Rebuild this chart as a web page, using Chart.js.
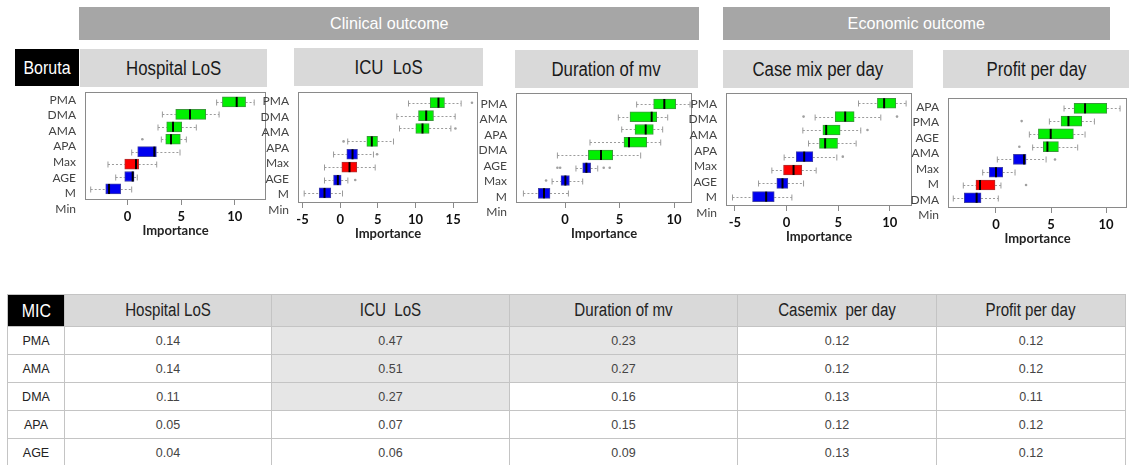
<!DOCTYPE html>
<html>
<head>
<meta charset="utf-8">
<script src="https://cdn.jsdelivr.net/npm/chart.js@4.4.1/dist/chart.umd.min.js"></script>
<style>
  body { margin: 0; width: 1129px; height: 465px; overflow: hidden; background: #fff; position: relative;
         font-family: "Liberation Sans", Arial, sans-serif; }
  .lab { position: absolute; display: flex; align-items: center; justify-content: center; box-sizing: border-box; white-space: nowrap; }
  .lab span, th span { display: inline-block; transform: scaleX(0.84); }
  .top { background: #a6a6a6; color: #fff; font-size: 17px; }
  .top span { transform: scaleX(0.95); }
  .sub { background: #d9d9d9; color: #1a1a1a; font-size: 20px; }
  .blk { background: #000; color: #fff; font-size: 19px; }
  canvas { position: absolute; }
  table { position: absolute; left: 7px; top: 294px; border-collapse: collapse; table-layout: fixed; }
  td, th { border: 1px solid #c4c4c4; text-align: center; padding: 0; white-space: nowrap; }
  th { height: 31px; background: #d9d9d9; font-weight: normal; font-size: 18px; color: #222; }
  th.blk { background: #000; color: #fff; }
  td { height: 27px; font-size: 12.5px; color: #444; }
  td.hi { background: #e6e6e6; }
</style>
</head>
<body>
<div class="lab top" style="left:79px;top:7px;width:620px;height:33px"><span>Clinical outcome</span></div>
<div class="lab top" style="left:723px;top:7px;width:387px;height:33px"><span>Economic outcome</span></div>
<div class="lab blk" style="left:15px;top:49px;width:64px;height:37px"><span>Boruta</span></div>
<div class="lab sub" style="left:80px;top:49px;width:187px;height:38px"><span>Hospital LoS</span></div>
<div class="lab sub" style="left:294px;top:48px;width:189px;height:38px"><span>ICU&nbsp; LoS</span></div>
<div class="lab sub" style="left:515px;top:50px;width:183px;height:38px"><span>Duration of mv</span></div>
<div class="lab sub" style="left:723px;top:50px;width:190px;height:38px"><span>Case mix per day</span></div>
<div class="lab sub" style="left:943px;top:50px;width:186px;height:38px"><span>Profit per day</span></div>

<canvas id="hosp"></canvas>
<canvas id="icu"></canvas>
<canvas id="dur"></canvas>
<canvas id="case"></canvas>
<canvas id="prof"></canvas>

<table id="mic"></table>

<script>
// Boruta importance, one box per row (top to bottom)
const hospLabels = ["PMA", "DMA", "AMA", "APA", "Max", "AGE", "M", "Min"];
const hospStatus = ["Confirmed", "Confirmed", "Confirmed", "Confirmed", "Shadow", "Rejected", "Shadow", "Shadow"];
const hospLo  = [8.3, 3.25, 2.84, 3.15, 0.39, -1.82, -1.1, -3.43];
const hospQ1  = [8.84, 4.49, 3.65, 3.56, 0.95, -0.26, -0.26, -2.03];
const hospMed = [10.17, 5.82, 4.24, 4.05, 2.5, 0.79, 0.48, -1.72];
const hospQ3  = [11.0, 7.29, 5.05, 4.92, 2.69, 1.04, 0.61, -0.63];
const hospHi  = [11.8, 8.53, 6.41, 5.48, 4.89, 2.72, 0.91, 0.39];
const hospOut = [[3, 1.38]];
const hospTicks = [0, 5, 10];

const icuLabels = ["PMA", "DMA", "AMA", "APA", "Max", "AGE", "M", "Min"];
const icuStatus = ["Confirmed", "Confirmed", "Confirmed", "Confirmed", "Shadow", "Rejected", "Shadow", "Shadow"];
const icuLo  = [9.07, 7.52, 7.88, 1.0, -0.88, -2.08, -2.08, -4.78];
const icuQ1  = [11.95, 10.4, 10.04, 3.54, 0.88, 0.22, -0.88, -2.79];
const icuMed = [13.05, 11.42, 10.93, 4.2, 1.64, 1.24, -0.31, -2.08];
const icuQ3  = [13.85, 12.39, 11.81, 4.96, 2.3, 2.21, 0.13, -1.24];
const icuHi  = [16.06, 15.27, 14.7, 7.08, 4.42, 4.65, 1.02, 0.31];
const icuOut = [[0, 17.5], [2, 15.3], [3, 0.45], [4, 4.9], [6, 2.0]];
const icuTicks = [-5, 0, 5, 10, 15];

const durLabels = ["PMA", "AMA", "APA", "DMA", "AGE", "Max", "M", "Min"];
const durStatus = ["Confirmed", "Confirmed", "Confirmed", "Confirmed", "Confirmed", "Shadow", "Shadow", "Shadow"];
const durLo  = [6.57, 4.89, 5.2, 2.29, -0.7, 1.0, -1.19, -3.82];
const durQ1  = [8.13, 5.96, 6.42, 5.41, 2.14, 1.62, -0.37, -2.45];
const durMed = [9.11, 7.95, 7.4, 5.87, 3.3, 1.96, 0.03, -1.93];
const durQ3  = [10.15, 8.41, 8.1, 7.49, 4.37, 2.35, 0.4, -1.38];
const durHi  = [11.47, 9.42, 8.96, 8.78, 6.94, 3.0, 1.62, 0.31];
const durOut = [[5, -0.7], [5, -0.45], [5, 3.55], [5, 4.1], [6, -1.74]];
const durTicks = [0, 5, 10];

const caseLabels = ["PMA", "DMA", "AMA", "APA", "Max", "AGE", "M", "Min"];
const caseStatus = ["Confirmed", "Confirmed", "Confirmed", "Confirmed", "Shadow", "Rejected", "Shadow", "Shadow"];
const caseLo  = [6.97, 2.77, 1.58, 2.13, -0.23, -1.42, -2.71, -5.23];
const caseQ1  = [8.8, 4.71, 3.52, 3.19, 0.94, -0.29, -0.94, -3.29];
const caseMed = [9.45, 5.68, 3.84, 3.74, 1.71, 0.68, -0.39, -1.97];
const caseQ3  = [10.58, 6.55, 5.19, 4.94, 2.55, 1.48, 0.13, -1.19];
const caseHi  = [11.58, 9.13, 7.19, 6.74, 4.87, 2.87, 1.65, 0.52];
const caseOut = [[1, 1.65], [1, 10.7], [2, 7.84], [4, 5.45]];
const caseTicks = [-5, 0, 5, 10];

const profLabels = ["APA", "PMA", "AGE", "AMA", "Max", "M", "DMA", "Min"];
const profStatus = ["Confirmed", "Confirmed", "Confirmed", "Confirmed", "Shadow", "Shadow", "Rejected", "Shadow"];
const profLo  = [6.18, 4.85, 3.03, 3.33, 0.12, -1.21, -2.97, -3.88];
const profQ1  = [7.09, 5.91, 3.85, 4.3, 1.58, -0.61, -1.82, -2.88];
const profMed = [8.09, 6.58, 4.97, 4.67, 2.55, 0, -1.45, -1.76];
const profQ3  = [10.06, 7.79, 7.03, 5.67, 2.73, 0.61, -0.09, -1.36];
const profHi  = [11.27, 8.94, 8.09, 7.42, 4.55, 1.73, 0.45, 0.21];
const profOut = [[1, 2.33], [3, 2.12], [4, 5.36], [6, 2.73]];
const profTicks = [0, 5, 10];

// MIC table
const micRows = ["PMA", "AMA", "DMA", "APA", "AGE"];
const micCols = ["Hospital LoS", "ICU\u00a0 LoS", "Duration of mv", "Casemix\u00a0 per day", "Profit per day"];
const micHosp = [0.14, 0.14, 0.11, 0.05, 0.04];
const micIcu  = [0.47, 0.51, 0.27, 0.07, 0.06];
const micDur  = [0.23, 0.27, 0.16, 0.15, 0.09];
const micCase = [0.12, 0.12, 0.13, 0.12, 0.13];
const micProf = [0.12, 0.12, 0.11, 0.12, 0.12];

const chartFont = 'Lato, "Noto Sans", sans-serif';
const fillFor = { Confirmed: "#00f000", Rejected: "#ff0000", Shadow: "#0000f0" };
const edgeFor = { Confirmed: "#3a9a3a", Rejected: "#b03030", Shadow: "#4040a8" };

function makeChart(id, d, lay) {
  const cv = document.getElementById(id);
  cv.width = lay.r - lay.l + 47;
  cv.height = lay.b - lay.t + 42;
  cv.style.left = (lay.l - 45) + "px";
  cv.style.top = (lay.t - 2) + "px";

  // whiskers, outliers, medians and frame
  const parts = {
    id: "parts_" + id,
    beforeDatasetsDraw(chart) {
      const ctx = chart.ctx, xs = chart.scales.x, ys = chart.scales.yb;
      ctx.save();
      ctx.strokeStyle = "#9b9b9b";
      ctx.lineWidth = 1;
      d.lo.forEach((lo, i) => {
        const y = Math.round(ys.getPixelForValue(i)) + 0.5;
        const a = xs.getPixelForValue(lo), b = xs.getPixelForValue(d.q1[i]);
        const c = xs.getPixelForValue(d.q3[i]), e = xs.getPixelForValue(d.hi[i]);
        ctx.setLineDash([2, 2]);
        ctx.beginPath();
        ctx.moveTo(a, y); ctx.lineTo(b, y);
        ctx.moveTo(c, y); ctx.lineTo(e, y);
        ctx.stroke();
        ctx.setLineDash([]);
        ctx.beginPath();
        ctx.moveTo(a, y - 3); ctx.lineTo(a, y + 3);
        ctx.moveTo(e, y - 3); ctx.lineTo(e, y + 3);
        ctx.stroke();
      });
      ctx.fillStyle = "#a0a0a0";
      d.out.forEach(([i, v]) => {
        ctx.beginPath();
        ctx.arc(xs.getPixelForValue(v), ys.getPixelForValue(i), 1.3, 0, Math.PI * 2);
        ctx.fill();
      });
      ctx.restore();
    },
    afterDatasetsDraw(chart) {
      const ctx = chart.ctx, xs = chart.scales.x;
      ctx.save();
      ctx.strokeStyle = "#000";
      ctx.lineWidth = 2;
      chart.getDatasetMeta(0).data.forEach((bar, i) => {
        const x = xs.getPixelForValue(d.med[i]);
        ctx.beginPath();
        ctx.moveTo(x, bar.y - bar.height / 2);
        ctx.lineTo(x, bar.y + bar.height / 2);
        ctx.stroke();
      });
      const a = chart.chartArea;
      ctx.strokeStyle = "#8a8a8a";
      ctx.lineWidth = 1;
      ctx.strokeRect(a.left + 0.5, a.top + 0.5, a.right - a.left - 1, a.bottom - a.top - 1);
      ctx.restore();
    }
  };

  new Chart(cv, {
    type: "bar",
    data: {
      datasets: [{
        data: d.q1.map((q, i) => ({ x: [q, d.q3[i]], y: i })),
        backgroundColor: d.status.map(s => fillFor[s]),
        borderColor: d.status.map(s => edgeFor[s]),
        borderWidth: 1,
        borderSkipped: false,
        barThickness: 10,
        xAxisID: "x",
        yAxisID: "yb"
      }]
    },
    options: {
      indexAxis: "y",
      responsive: false,
      animation: false,
      devicePixelRatio: 1,
      layout: { padding: { left: 0, top: 2, right: 2, bottom: 0 } },
      plugins: { legend: { display: false }, tooltip: { enabled: false } },
      scales: {
        x: {
          type: "linear", min: lay.xmin, max: lay.xmax, offset: false,
          afterBuildTicks: s => { s.ticks = d.ticks.map(v => ({ value: v })); },
          afterFit: s => { s.height = 40; s.paddingLeft = 0; s.paddingRight = 0; },
          grid: { drawOnChartArea: false, drawTicks: true, tickLength: 5, color: "#8a8a8a" },
          border: { display: false },
          ticks: { autoSkip: false, maxRotation: 0, padding: 4, color: "#111",
                   font: { family: chartFont, size: 13, weight: "bold" } },
          title: { display: true, text: "Importance", color: "#222", padding: { top: 0, bottom: 1 },
                   font: { family: chartFont, size: 13, weight: "bold" } }
        },
        yl: {
          type: "linear", position: "left", reverse: true, offset: false, min: lay.lmin, max: lay.lmax,
          afterBuildTicks: s => { s.ticks = d.labels.map((_, i) => ({ value: i })); },
          afterFit: s => { s.width = 45; s.paddingTop = 0; s.paddingBottom = 0; },
          grid: { display: false, drawTicks: false, offset: false },
          border: { display: false },
          ticks: { autoSkip: false, padding: 9, color: "#444",
                   font: { family: chartFont, size: 12 },
                   callback: v => d.labels[v] }
        },
        yb: { type: "linear", display: false, reverse: true, offset: false, grid: { offset: false },
              min: lay.bmin, max: lay.bmax }
      }
    },
    plugins: [parts]
  });
}

makeChart("hosp",
  { labels: hospLabels, status: hospStatus, lo: hospLo, q1: hospQ1, med: hospMed, q3: hospQ3, hi: hospHi, out: hospOut, ticks: hospTicks },
  { l: 85, t: 92, r: 266, b: 200, xmin: -3.96, xmax: 12.9, bmin: -0.80, bmax: 7.89, lmin: -0.51, lmax: 6.43 });
makeChart("icu",
  { labels: icuLabels, status: icuStatus, lo: icuLo, q1: icuQ1, med: icuMed, q3: icuQ3, hi: icuHi, out: icuOut, ticks: icuTicks },
  { l: 298, t: 92, r: 478, b: 203, xmin: -5.6, xmax: 18.3, bmin: -0.83, bmax: 7.78, lmin: -0.60, lmax: 6.55 });
makeChart("dur",
  { labels: durLabels, status: durStatus, lo: durLo, q1: durQ1, med: durMed, q3: durQ3, hi: durHi, out: durOut, ticks: durTicks },
  { l: 516, t: 93, r: 692, b: 203, xmin: -4.5, xmax: 11.65, bmin: -0.86, bmax: 7.76, lmin: -0.69, lmax: 6.40 });
makeChart("case",
  { labels: caseLabels, status: caseStatus, lo: caseLo, q1: caseQ1, med: caseMed, q3: caseQ3, hi: caseHi, out: caseOut, ticks: caseTicks },
  { l: 726, t: 93, r: 912, b: 206, xmin: -5.86, xmax: 12.15, bmin: -0.77, bmax: 7.70, lmin: -0.70, lmax: 6.54 });
makeChart("prof",
  { labels: profLabels, status: profStatus, lo: profLo, q1: profQ1, med: profMed, q3: profQ3, hi: profHi, out: profOut, ticks: profTicks },
  { l: 948, t: 98, r: 1127, b: 208, xmin: -4.36, xmax: 11.9, bmin: -0.81, bmax: 7.80, lmin: -0.56, lmax: 6.51 });

// MIC table
const colWidths = [57, 207, 238, 228, 199, 189];
const micValues = [micHosp, micIcu, micDur, micCase, micProf];
const tbl = document.getElementById("mic");
let html = "<colgroup>" + colWidths.map(w => `<col style="width:${w}px">`).join("") + "</colgroup>";
html += '<tr><th class="blk"><span>MIC</span></th>' + micCols.map(c => `<th><span>${c}</span></th>`).join("") + "</tr>";
micRows.forEach((r, i) => {
  html += `<tr><td style="color:#222">${r}</td>` +
    micValues.map(col => `<td class="${col[i] >= 0.2 ? "hi" : ""}">${col[i].toFixed(2)}</td>`).join("") + "</tr>";
});
tbl.innerHTML = html;
</script>
</body>
</html>
